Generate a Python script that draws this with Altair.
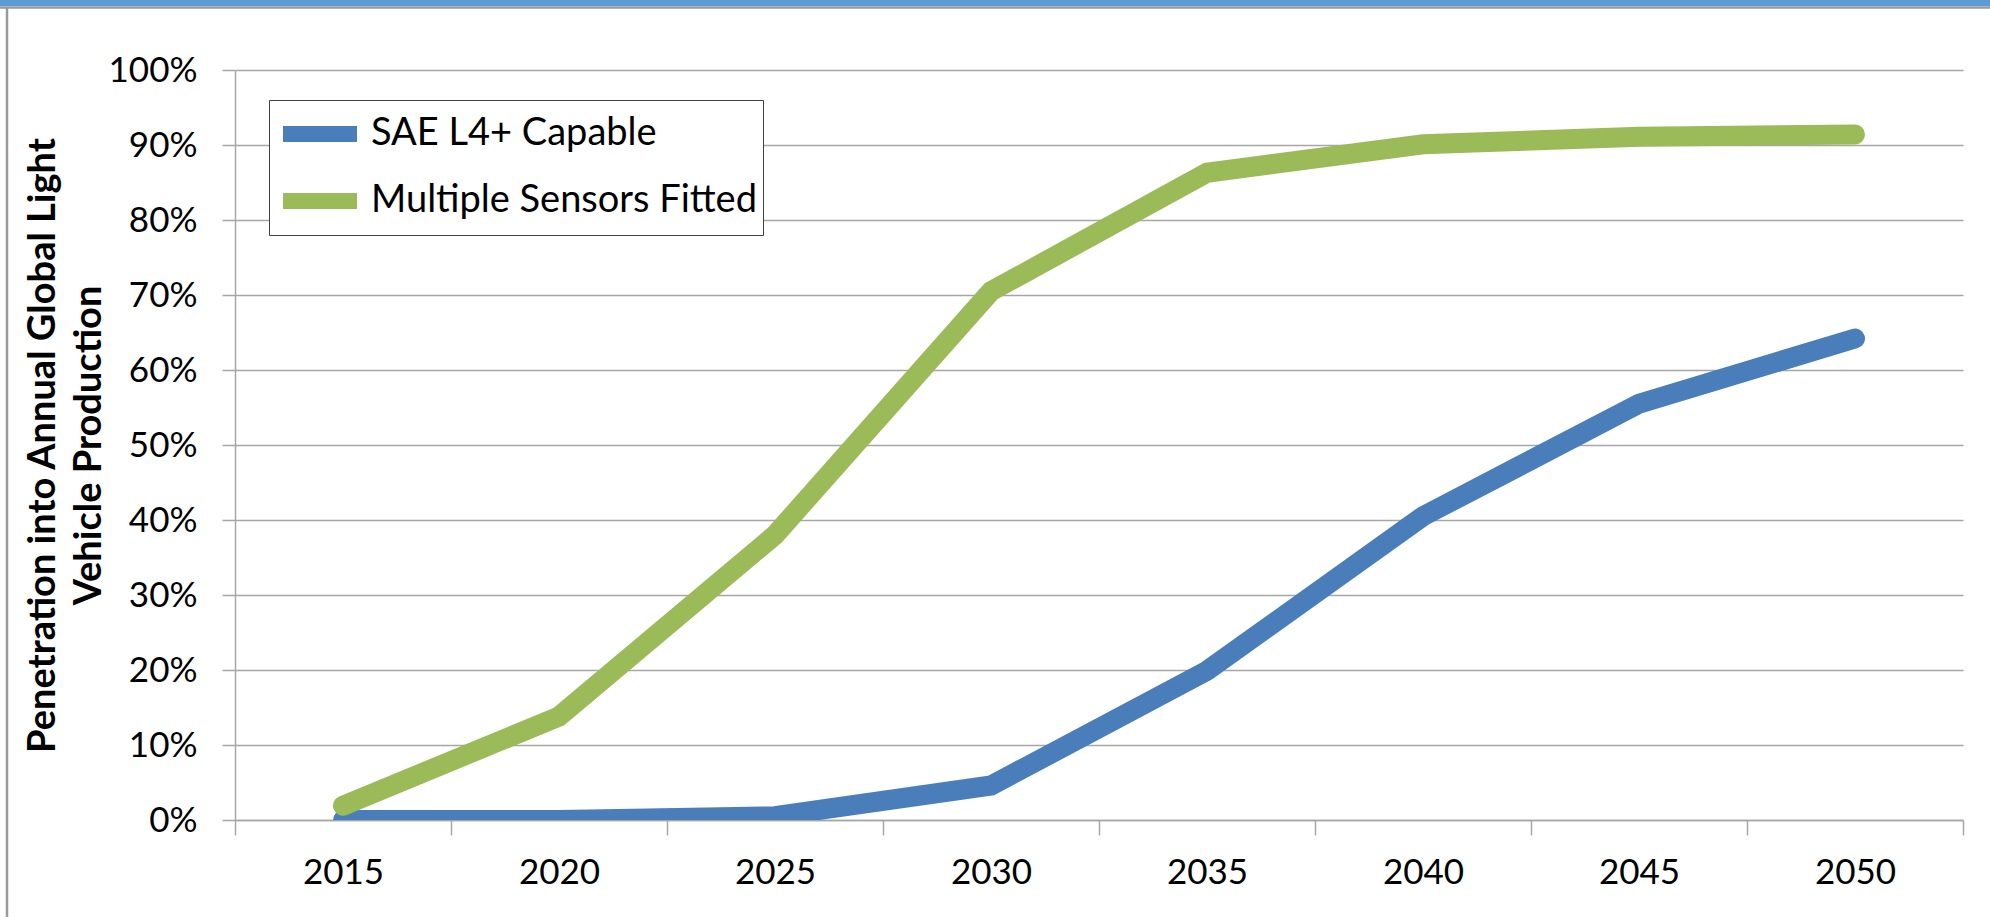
import altair as alt
import pandas as pd

years = [2015, 2020, 2025, 2030, 2035, 2040, 2045, 2050]
sae_l4 = [0.0, 0.0, 0.005, 0.046, 0.199, 0.405, 0.555, 0.642]
multi_sensors = [0.019, 0.138, 0.380, 0.705, 0.863, 0.901, 0.911, 0.914]
series_names = ["SAE L4+ Capable", "Multiple Sensors Fitted"]
series_colors = ["#4A7EBB", "#9BBB59"]
x_bounds = [2012.5, 2017.5, 2022.5, 2027.5, 2032.5, 2037.5, 2042.5, 2047.5, 2052.5]
y_ticks = [i / 10 for i in range(11)]
y_title = ["Penetration into Annual Global Light", "Vehicle Production"]

FONT = "Lato"
GRID = "#A6A6A6"

df_sae = pd.DataFrame({"year": years, "value": sae_l4, "series": series_names[0]})
df_ms = pd.DataFrame({"year": years, "value": multi_sensors, "series": series_names[1]})

W, H = 1728, 750

x_enc = alt.X(
    "year:Q",
    scale=alt.Scale(domain=[x_bounds[0], x_bounds[-1]], nice=False, zero=False),
    axis=alt.Axis(
        values=x_bounds,
        labelExpr="datum.value < 2052 ? format(datum.value + 2.5, 'd') : ''",
        labelOffset=W / 16,
        tickSize=15,
        tickColor=GRID,
        tickWidth=1.5,
        domainColor=GRID,
        domainWidth=1.5,
        grid=False,
        labelFont=FONT,
        labelFontSize=35,
        labelColor="#000000",
        labelPadding=20,
        labelFlush=False,
        labelOverlap=False,
        title=None,
    ),
)
y_enc = alt.Y(
    "value:Q",
    scale=alt.Scale(domain=[0, 1], nice=False),
    axis=alt.Axis(
        values=y_ticks,
        format=".0%",
        tickSize=13,
        tickColor=GRID,
        tickWidth=1.5,
        domainColor=GRID,
        domainWidth=1.5,
        grid=True,
        gridColor=GRID,
        gridWidth=1.5,
        labelFont=FONT,
        labelFontSize=35,
        labelColor="#000000",
        labelPadding=25,
        labelFlush=False,
        title=y_title,
        titleFont=FONT,
        titleFontSize=38,
        titleFontWeight="bold",
        titleColor="#000000",
        titleLineHeight=46,
        titleAngle=270,
        titleAlign="center",
        titleBaseline="middle",
        titleX=-192,
        titleY=H / 2,
    ),
)
color_enc = alt.Color(
    "series:N",
    scale=alt.Scale(domain=series_names, range=series_colors),
    legend=alt.Legend(
        title=None,
        orient="none",
        legendX=34,
        legendY=30,
        symbolType="stroke",
        symbolStrokeWidth=16,
        symbolSize=74 * 74,
        clipHeight=56,
        labelFont=FONT,
        labelFontSize=38,
        labelColor="#000000",
        labelOffset=6,
        labelLimit=600,
        rowPadding=11,
        padding=6,
        strokeColor="#404040",
        fillColor="#FFFFFF",
    ),
)

line_sae = alt.Chart(df_sae).mark_line(
    strokeWidth=20, strokeCap="round", clip=True
).encode(x=x_enc, y=y_enc, color=color_enc)
line_ms = alt.Chart(df_ms).mark_line(
    strokeWidth=20, strokeCap="round", clip=True
).encode(x=x_enc, y=y_enc, color=color_enc)

# window frame decorations
frame_df = pd.DataFrame({"k": [0]})
top_bar = alt.Chart(frame_df).mark_rect(color="#5B9BD5", clip=False).encode(
    x=alt.value(-235), x2=alt.value(W + 27), y=alt.value(-70), y2=alt.value(-64)
)
top_line = alt.Chart(frame_df).mark_rule(color="#9A9A9A", strokeWidth=2.5, clip=False).encode(
    x=alt.value(-235), x2=alt.value(W + 27), y=alt.value(-62.5)
)
left_line = alt.Chart(frame_df).mark_rule(color="#9A9A9A", strokeWidth=2.5, clip=False).encode(
    x=alt.value(-228), y=alt.value(-62), y2=alt.value(H + 97)
)

chart = alt.layer(line_sae, line_ms, top_bar, top_line, left_line).properties(
    width=W,
    height=H,
    autosize=alt.AutoSizeParams(type="none"),
    padding={"left": 235, "top": 70, "right": 27, "bottom": 97},
    background="#FFFFFF",
).configure_view(stroke=None)

chart.save("out.html", embed_options={"renderer": "svg", "actions": False})
